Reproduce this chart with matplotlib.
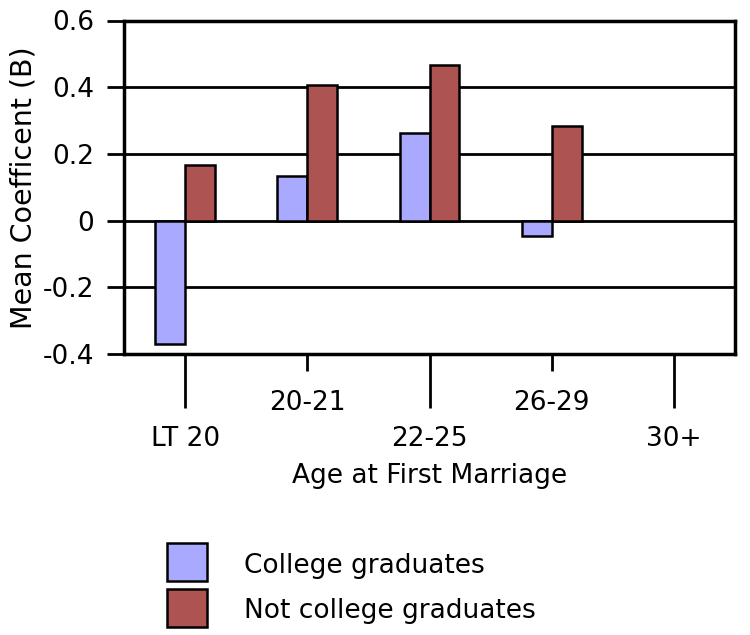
import matplotlib
matplotlib.use("Agg")
import matplotlib.pyplot as plt
import numpy as np
from matplotlib.patches import Rectangle

categories = ["LT 20", "20-21", "22-25", "26-29", "30+"]
college = [-0.37, 0.134, 0.263, -0.045, np.nan]
not_college = [0.167, 0.407, 0.468, 0.284, np.nan]
series_names = ["College graduates", "Not college graduates"]
yticks = [-0.4, -0.2, 0, 0.2, 0.4, 0.6]
ytick_labels = ["-0.4", "-0.2", "0", "0.2", "0.4", "0.6"]

blue = "#A9A9FF"
red = "#AD5453"
colors = [blue, red]

W, H = 750, 635
plt.rcParams['font.family'] = ['DejaVu Sans']
fig = plt.figure(figsize=(W/100, H/100), dpi=100)
ax = fig.add_axes([124/W, 1-354/H, (735-124)/W, (354-20.5)/H])

x = np.arange(len(categories))
w = 0.245
ax.bar(x - w/2, college, width=w, color=blue, edgecolor="black", linewidth=1.8, zorder=3)
ax.bar(x + w/2, not_college, width=w, color=red, edgecolor="black", linewidth=1.8, zorder=3)

ax.set_xlim(-0.5, len(categories) - 0.5)
ax.set_ylim(-0.4, 0.6)
ax.set_yticks(yticks)
ax.set_yticklabels(ytick_labels)
for yv in yticks:
    ax.axhline(yv, color="black", linewidth=2, zorder=1)

for s in ax.spines.values():
    s.set_linewidth(2.5)
    s.set_color("black")

ax.tick_params(axis="y", direction="out", length=12, width=2, labelsize=19, pad=9.5)

major = [i for i in range(len(categories)) if i % 2 == 0]
minor = [i for i in range(len(categories)) if i % 2 == 1]
ax.set_xticks(major)
ax.set_xticklabels([categories[i] for i in major])
ax.set_xticks(minor, minor=True)
ax.set_xticklabels([categories[i] for i in minor], minor=True)
ax.tick_params(axis="x", which="major", direction="out", length=39, width=2, labelsize=19, pad=12.5)
ax.tick_params(axis="x", which="minor", direction="out", length=12.2, width=2, labelsize=19, pad=13.5)

ax.set_xlabel("Age at First Marriage", fontsize=19, labelpad=8)
ax.set_ylabel("Mean Coefficent (B)", fontsize=20.5, labelpad=4)

# legend (drawn manually to match the reference layout)
box_tops = [543, 589]
baselines = [573, 618]
for name, col, top, base in zip(series_names, colors, box_tops, baselines):
    fig.add_artist(Rectangle((167/W, 1-(top+38)/H), 40/W, 38/H, transform=fig.transFigure,
                             facecolor=col, edgecolor="black", linewidth=1.8))
    fig.text(244/W, 1-base/H, name, fontsize=19, va="baseline", ha="left")

fig.savefig("out.png", dpi=100)
